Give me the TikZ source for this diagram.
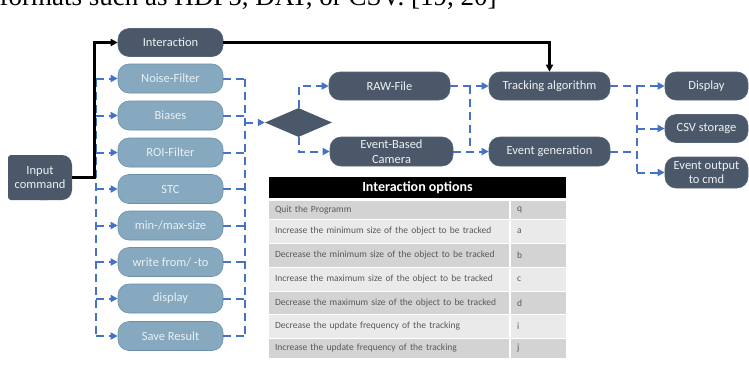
\documentclass[tikz,border=0pt]{standalone}
\usepackage{fontspec}
\setmainfont{Liberation Serif}
\setsansfont{Carlito}
\usepackage{tikz}
\usetikzlibrary{arrows.meta,shapes.geometric}
\definecolor{slate}{HTML}{4A5869}
\definecolor{slateln}{HTML}{56657A}
\definecolor{haze}{HTML}{86A9BF}
\definecolor{hazeln}{HTML}{6C90A8}
\definecolor{mist}{HTML}{E9F0F4}
\definecolor{paper}{HTML}{EEF1F4}
\definecolor{wire}{HTML}{4472C4}
\definecolor{rowdk}{HTML}{D3D3D3}
\definecolor{rowlt}{HTML}{EAEAEA}
\definecolor{ink}{HTML}{595959}
\tikzset{
  every node/.style={font=\sffamily},
  pill/.style={fill=slate,draw=slateln,line width=0.6pt,rounded corners=11pt,align=center,
               text=paper,inner sep=0pt,minimum height=28pt,
               font=\sffamily\fontsize{12.5}{14}\selectfont},
  opt/.style={pill,fill=haze,draw=hazeln,text=mist,minimum width=105pt,minimum height=29pt},
  bus/.style={draw=wire,line width=2pt,dash pattern=on 8pt off 5pt},
  bar/.style={bus,-{Triangle[length=7pt,width=7pt]}},
  hard/.style={-{Triangle[length=7pt,width=7pt]},draw=black,line width=2.2pt},
  cella/.style={fill=rowdk,text width=228pt,inner xsep=6pt,inner ysep=0pt,align=left,
                text=ink,font=\sffamily\fontsize{9.5}{11}\selectfont},
  cellb/.style={cella,fill=rowlt},
  keya/.style={cella,text width=43pt},
  keyb/.style={keya,fill=rowlt},
}
\begin{document}
\begin{tikzpicture}[x=1pt,y=-1pt]
\path[use as bounding box,fill=white] (0,0) rectangle (749,370);

% running text above the figure
\node[anchor=base west,inner sep=0pt,font=\rmfamily\fontsize{27}{30}\selectfont] (prose) at (-0.5,5)
  {formats such as HDF5, DAT, or CSV. [19, 20]};

% input
\fill[slate,rounded corners=3pt] (8,155) rectangle (50,200);
\fill[slate,rounded corners=10pt] (30,155) rectangle (72,200);
\node[pill,fill=none,draw=none,minimum width=64pt,minimum height=45pt] (inp) at (40,177.5) {Input\\command};

% command column
\node[pill,minimum width=105pt] (intr) at (170.5,42.5) {Interaction};
\node[opt] (nf)  at (170.5,78.5)  {Noise-Filter};
\node[opt] (bia) at (170.5,115.5) {Biases};
\node[opt] (roi) at (170.5,152.5) {ROI-Filter};
\node[opt] (stc) at (170.5,189)   {STC};
\node[opt] (msz) at (170.5,225.5) {min-/max-size};
\node[opt] (wft) at (170.5,262)   {write from/ -to};
\node[opt] (dsp) at (170.5,298.5) {display};
\node[opt] (sav) at (170.5,336)   {Save Result};

% sources and processing
\node[diamond,fill=slate,aspect=2.3,minimum width=67pt,minimum height=29pt,inner sep=0pt] (dia) at (298.5,122.5) {};
\node[pill,minimum width=121pt] (raw) at (389.5,86) {RAW-File};
\node[pill,minimum width=123pt,minimum height=29pt] (ebc) at (391.5,151.5) {Event-Based\\[1pt]Camera};
\node[pill,minimum width=121pt] (trk) at (549.5,86) {Tracking algorithm};
\node[pill,minimum width=121pt,minimum height=29pt] (evg) at (549.5,151.5) {Event generation};

% outputs
\node[pill,minimum width=83pt] (disp) at (706.5,86) {Display};
\node[pill,minimum width=83pt] (csv) at (706.5,128.5) {CSV storage};
\node[pill,minimum width=83pt,minimum height=31pt] (eout) at (706.5,172.5) {Event output\\to cmd};

% bus lines
\coordinate (kbus) at (94.5,0);
\coordinate (lbus) at (96,0);
\coordinate (rbus) at (244.5,0);
\coordinate (mbus) at (470,0);
\coordinate (obus) at (637,0);

% left bus into the commands
\draw[bus] (lbus |- nf) -- (lbus |- sav);
\draw[bar] (lbus |- nf)  -- (nf.west);
\draw[bar] (lbus |- bia) -- (bia.west);
\draw[bar] (lbus |- roi) -- (roi.west);
\draw[bar] (lbus |- stc) -- (stc.west);
\draw[bar] (lbus |- msz) -- (msz.west);
\draw[bar] (lbus |- wft) -- (wft.west);
\draw[bar] (lbus |- dsp) -- (dsp.west);
\draw[bar] (lbus |- sav) -- (sav.west);

% right bus to the source choice
\draw[bus] (nf.east)  -- (rbus |- nf);
\draw[bus] (bia.east) -- (rbus |- bia);
\draw[bus] (roi.east) -- (rbus |- roi);
\draw[bus] (stc.east) -- (rbus |- stc);
\draw[bus] (msz.east) -- (rbus |- msz);
\draw[bus] (wft.east) -- (rbus |- wft);
\draw[bus] (dsp.east) -- (rbus |- dsp);
\draw[bus] (sav.east) -- (rbus |- sav);
\draw[bus] (rbus |- nf) -- (rbus |- sav);
\draw[bar] (rbus |- dia) -- (dia.west);

% sources
\draw[bar] (dia.north) |- (raw.west);
\draw[bar] (dia.south) |- (ebc.west);
\draw[bar] (raw.east) -- (trk.west);
\draw[bar] (ebc.east) -- (evg.west);
\draw[bus] (mbus |- raw) -- (mbus |- ebc);

% results
\draw[bus] (trk.east) -- (obus |- trk);
\draw[bus] (evg.east) -- (obus |- evg);
\draw[bus] (obus |- trk) -- (obus |- eout);
\draw[bar] (obus |- disp) -- (disp.west);
\draw[bar] (obus |- csv)  -- (csv.west);
\draw[bar] (obus |- eout) -- (eout.west);

% interactive commands
\draw[hard] (inp.east) -- (kbus |- inp) |- (intr.west);
\draw[hard] (intr.east) -| (trk.north);

% table of keys
\node[fill=black,text=white,minimum width=297pt,minimum height=21pt,inner sep=0pt,
      font=\sffamily\bfseries\fontsize{14}{16}\selectfont] (hd) at (417.5,187.5) {Interaction options};
\node[cella,minimum height=18pt] (o1) at (389,210)   {Quit the Programm};
\node[cellb,minimum height=23pt] (o2) at (389,231.5) {Increase the minimum size of the object to be tracked};
\node[cella,minimum height=23pt] (o3) at (389,255.5) {Decrease the minimum size of the object to be tracked};
\node[cellb,minimum height=23pt] (o4) at (389,279.5) {Increase the maximum size of the object to be tracked};
\node[cella,minimum height=22pt] (o5) at (389,303)   {Decrease the maximum size of the object to be tracked};
\node[cellb,minimum height=23pt] (o6) at (389,326.5) {Decrease the update frequency of the tracking};
\node[cella,minimum height=19pt] (o7) at (389,348.5) {Increase the update frequency of the tracking};
\node[keya,minimum height=18pt] (k1) at (538.5,210)   {q};
\node[keyb,minimum height=23pt] (k2) at (538.5,231.5) {a};
\node[keya,minimum height=23pt] (k3) at (538.5,255.5) {b};
\node[keyb,minimum height=23pt] (k4) at (538.5,279.5) {c};
\node[keya,minimum height=22pt] (k5) at (538.5,303)   {d};
\node[keyb,minimum height=23pt] (k6) at (538.5,326.5) {i};
\node[keya,minimum height=19pt] (k7) at (538.5,348.5) {j};
\end{tikzpicture}
\end{document}
